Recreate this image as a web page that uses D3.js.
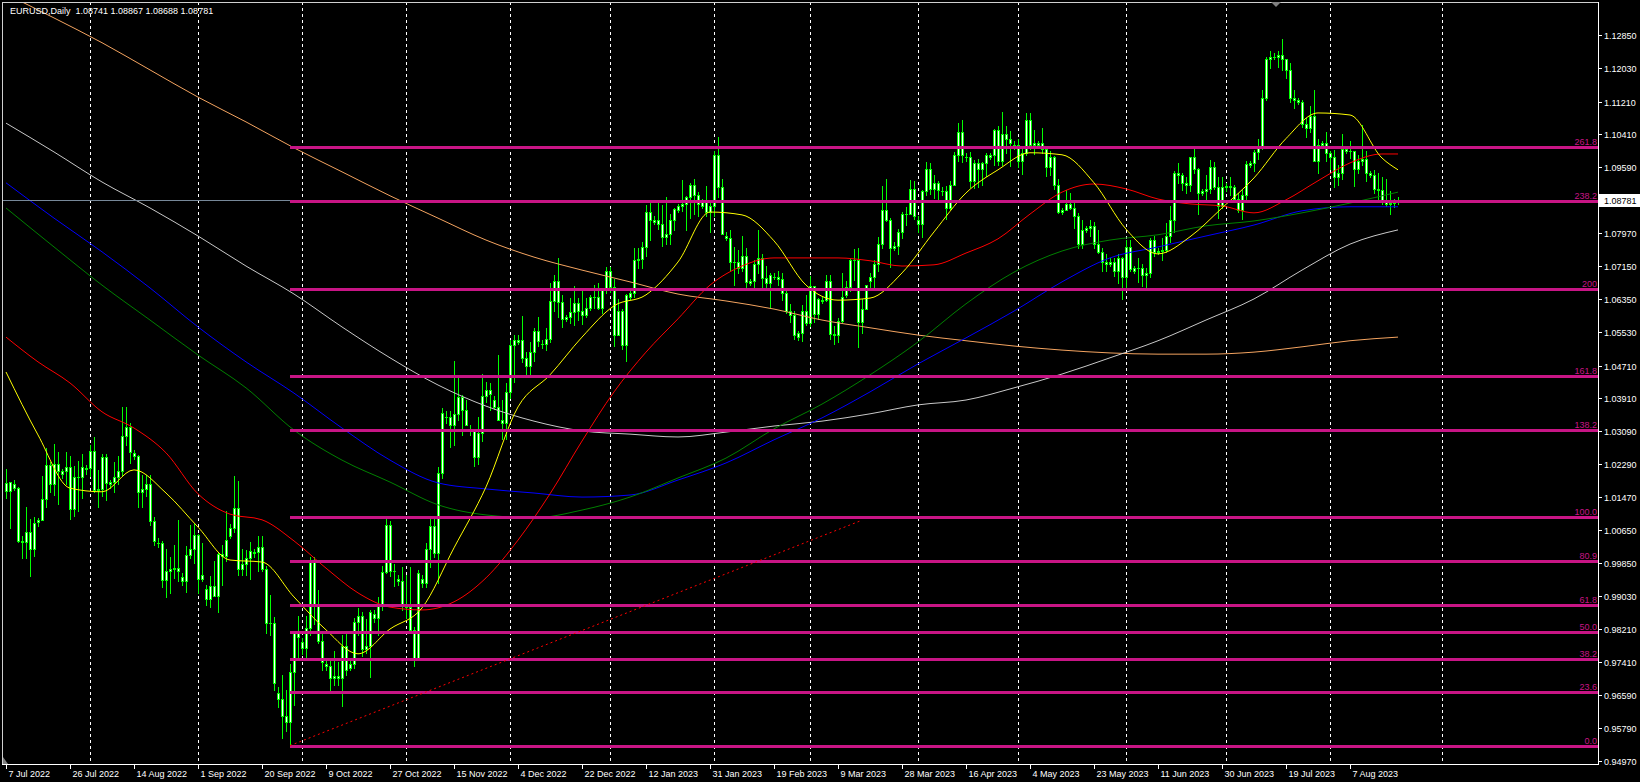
<!DOCTYPE html>
<html lang="en">
<head>
<meta charset="UTF-8">
<title>EURUSD Daily</title>
<script src="https://cdn.jsdelivr.net/npm/d3@7"></script>
<style type="text/css">
    body { margin: 0; background: #000; }
    svg { display: block; }
    text { font-family: "Liberation Sans", Arial, sans-serif; font-size: 9px; }
</style>
</head>
<body>
<svg width="1640" height="782"></svg>
<script type="text/javascript">
// daily bars, [open, high, low, close], one array per month (Sunday bars included)
var jul22 = [
    [1.0182,1.0215,1.0144,1.0161],[1.0161,1.0185,1.0072,1.0185],
    [1.0180,1.0190,1.0165,1.0170],[1.0170,1.0173,1.0036,1.0038],[1.0038,1.0050,0.9998,1.0036],[1.0036,1.0122,0.9998,1.0061],[1.0061,1.0092,0.9952,1.0019],[1.0019,1.0097,1.0001,1.0082],
    [1.0085,1.0095,1.0075,1.0090],[1.0090,1.0200,1.0090,1.0142],[1.0142,1.0269,1.0123,1.0226],[1.0226,1.0234,1.0160,1.0180],[1.0180,1.0278,1.0152,1.0229],[1.0229,1.0258,1.0130,1.0212],
    [1.0205,1.0215,1.0195,1.0210],[1.0210,1.0258,1.0180,1.0221],[1.0221,1.0248,1.0094,1.0117],[1.0117,1.0224,1.0100,1.0197],[1.0197,1.0235,1.0112,1.0196],[1.0196,1.0254,1.0145,1.0220],
    [1.0215,1.0225,1.0205,1.0218]
];
var aug22 = [
    [1.0218,1.0275,1.0200,1.0260],[1.0260,1.0294,1.0160,1.0164],[1.0164,1.0214,1.0123,1.0167],[1.0167,1.0254,1.0150,1.0246],[1.0246,1.0253,1.0141,1.0182],
    [1.0180,1.0190,1.0170,1.0185],[1.0185,1.0234,1.0160,1.0196],[1.0196,1.0248,1.0180,1.0211],[1.0211,1.0368,1.0202,1.0298],[1.0298,1.0368,1.0275,1.0320],[1.0320,1.0330,1.0232,1.0258],
    [1.0255,1.0262,1.0240,1.0248],[1.0248,1.0250,1.0123,1.0160],[1.0160,1.0202,1.0122,1.0168],[1.0168,1.0201,1.0150,1.0180],[1.0180,1.0202,1.0077,1.0087],[1.0087,1.0097,1.0030,1.0038],
    [1.0035,1.0045,1.0025,1.0035],[1.0035,1.0040,0.9926,0.9944],[0.9944,1.0019,0.9901,0.9966],[0.9966,0.9999,0.9910,0.9970],[0.9970,1.0030,0.9947,0.9972],[0.9972,1.0090,0.9940,0.9964],
    [0.9950,0.9960,0.9930,0.9940],[0.9940,1.0027,0.9914,1.0004],[1.0004,1.0079,0.9996,1.0018],[1.0018,1.0080,0.9985,1.0054]
];
var sep22 = [
    [1.0054,1.0056,0.9910,0.9946],[0.9946,1.0034,0.9940,0.9955],
    [0.9920,0.9930,0.9880,0.9895],[0.9895,0.9953,0.9876,0.9929],[0.9929,0.9990,0.9904,0.9903],[0.9903,1.0012,0.9864,1.0008],[1.0008,1.0030,0.9930,1.0001],[1.0001,1.0113,0.9990,1.0042],
    [1.0050,1.0080,1.0045,1.0070],[1.0070,1.0198,1.0060,1.0121],[1.0121,1.0187,0.9955,0.9969],[0.9969,1.0020,0.9955,0.9981],[0.9981,1.0017,0.9955,0.9998],[0.9998,1.0036,0.9945,1.0015],
    [1.0010,1.0020,1.0000,1.0012],[1.0012,1.0051,0.9966,1.0024],[1.0024,1.0050,0.9966,0.9971],[0.9971,0.9977,0.9812,0.9837],[0.9837,0.9907,0.9808,0.9837],[0.9837,0.9852,0.9672,0.9690],
    [0.9665,0.9680,0.9630,0.9650],[0.9650,0.9709,0.9554,0.9607],[0.9607,0.9672,0.9570,0.9593],[0.9593,0.9737,0.9535,0.9715],[0.9715,0.9815,0.9636,0.9815],[0.9815,0.9854,0.9749,0.9802]
];
var oct22 = [
    [0.9790,0.9800,0.9760,0.9775],[0.9775,0.9853,0.9751,0.9825],[0.9825,0.9999,0.9808,0.9986],[0.9986,0.9999,0.9835,0.9883],[0.9883,0.9918,0.9787,0.9793],[0.9793,0.9816,0.9720,0.9740],
    [0.9735,0.9745,0.9720,0.9730],[0.9730,0.9750,0.9670,0.9702],[0.9702,0.9769,0.9683,0.9707],[0.9707,0.9740,0.9684,0.9702],[0.9702,0.9807,0.9632,0.9780],[0.9780,0.9810,0.9710,0.9720],
    [0.9725,0.9745,0.9720,0.9735],[0.9735,0.9850,0.9725,0.9840],[0.9840,0.9875,0.9807,0.9855],[0.9855,0.9865,0.9756,0.9773],[0.9773,0.9847,0.9762,0.9779],[0.9779,0.9870,0.9705,0.9863],
    [0.9860,0.9870,0.9840,0.9850],[0.9850,0.9900,0.9808,0.9878],[0.9878,0.9977,0.9868,0.9963],[0.9963,1.0094,0.9960,1.0078],[1.0078,1.0088,0.9952,0.9965],[0.9965,0.9981,0.9929,0.9965],
    [0.9945,0.9955,0.9930,0.9940],[0.9940,0.9976,0.9870,0.9883]
];
var nov22 = [
    [0.9883,0.9954,0.9850,0.9877],[0.9877,0.9976,0.9814,0.9819],[0.9819,0.9826,0.9730,0.9751],[0.9751,0.9967,0.9746,0.9960],
    [0.9945,0.9955,0.9925,0.9935],[0.9935,1.0033,0.9925,1.0020],[1.0020,1.0095,0.9974,1.0075],[1.0075,1.0094,1.0000,1.0010],[1.0010,1.0222,0.9935,1.0206],[1.0206,1.0366,1.0195,1.0354],
    [1.0345,1.0360,1.0330,1.0345],[1.0345,1.0358,1.0271,1.0325],[1.0325,1.0481,1.0275,1.0352],[1.0352,1.0444,1.0336,1.0393],[1.0393,1.0399,1.0301,1.0362],[1.0362,1.0387,1.0325,1.0325],
    [1.0315,1.0325,1.0300,1.0310],[1.0310,1.0314,1.0223,1.0245],[1.0245,1.0343,1.0228,1.0305],[1.0305,1.0449,1.0285,1.0395],[1.0395,1.0431,1.0382,1.0410],[1.0410,1.0428,1.0362,1.0400],
    [1.0385,1.0395,1.0365,1.0370],[1.0370,1.0497,1.0345,1.0337],[1.0337,1.0386,1.0289,1.0330],[1.0330,1.0429,1.0290,1.0406]
];
var dec22 = [
    [1.0406,1.0535,1.0390,1.0522],[1.0522,1.0545,1.0430,1.0535],
    [1.0530,1.0545,1.0525,1.0535],[1.0535,1.0594,1.0480,1.0490],[1.0490,1.0505,1.0443,1.0470],[1.0470,1.0530,1.0443,1.0505],[1.0505,1.0564,1.0482,1.0556],[1.0556,1.0590,1.0520,1.0532],
    [1.0525,1.0535,1.0515,1.0525],[1.0525,1.0564,1.0510,1.0537],[1.0537,1.0674,1.0530,1.0630],[1.0630,1.0695,1.0605,1.0680],[1.0680,1.0736,1.0591,1.0628],[1.0628,1.0645,1.0567,1.0585],
    [1.0585,1.0595,1.0580,1.0590],[1.0590,1.0638,1.0575,1.0604],[1.0604,1.0667,1.0570,1.0625],[1.0625,1.0638,1.0584,1.0605],[1.0605,1.0658,1.0573,1.0595],[1.0595,1.0637,1.0591,1.0613],
    [1.0613,1.0645,1.0608,1.0640],[1.0640,1.0670,1.0612,1.0640],[1.0640,1.0673,1.0610,1.0612],[1.0612,1.0663,1.0600,1.0660],[1.0660,1.0713,1.0650,1.0705]
];
var jan23 = [
    [1.0705,1.0713,1.0653,1.0665],[1.0665,1.0683,1.0520,1.0547],[1.0547,1.0636,1.0545,1.0606],[1.0606,1.0610,1.0512,1.0521],[1.0521,1.0648,1.0483,1.0645],
    [1.0640,1.0655,1.0635,1.0650],[1.0650,1.0760,1.0640,1.0730],[1.0730,1.0760,1.0712,1.0734],[1.0734,1.0776,1.0712,1.0762],[1.0762,1.0867,1.0740,1.0850],[1.0850,1.0874,1.0780,1.0830],
    [1.0825,1.0840,1.0820,1.0830],[1.0830,1.0874,1.0806,1.0820],[1.0820,1.0867,1.0766,1.0787],[1.0787,1.0887,1.0770,1.0795],[1.0795,1.0844,1.0770,1.0830],[1.0830,1.0860,1.0805,1.0856],
    [1.0855,1.0870,1.0850,1.0865],[1.0865,1.0927,1.0851,1.0870],[1.0870,1.0888,1.0804,1.0885],[1.0885,1.0920,1.0835,1.0915],[1.0915,1.0930,1.0845,1.0890],[1.0890,1.0899,1.0838,1.0870],
    [1.0865,1.0880,1.0860,1.0875],[1.0875,1.0914,1.0838,1.0850],[1.0850,1.0872,1.0800,1.0863]
];
var feb23 = [
    [1.0863,1.1000,1.0840,1.0990],[1.0990,1.1033,1.0886,1.0910],[1.0910,1.0930,1.0795,1.0795],
    [1.0790,1.0800,1.0780,1.0785],[1.0785,1.0805,1.0707,1.0727],[1.0727,1.0762,1.0669,1.0726],[1.0726,1.0755,1.0700,1.0712],[1.0712,1.0790,1.0705,1.0740],[1.0740,1.0760,1.0660,1.0677],
    [1.0675,1.0685,1.0670,1.0680],[1.0680,1.0730,1.0665,1.0722],[1.0722,1.0804,1.0700,1.0737],[1.0737,1.0745,1.0660,1.0687],[1.0687,1.0716,1.0660,1.0675],[1.0675,1.0700,1.0613,1.0695],
    [1.0690,1.0700,1.0685,1.0690],[1.0690,1.0705,1.0670,1.0685],[1.0685,1.0700,1.0633,1.0650],[1.0650,1.0663,1.0600,1.0605],[1.0605,1.0622,1.0577,1.0595],[1.0595,1.0605,1.0536,1.0545],
    [1.0540,1.0555,1.0535,1.0550],[1.0550,1.0620,1.0532,1.0606],[1.0606,1.0645,1.0572,1.0575]
];
var mar23 = [
    [1.0575,1.0691,1.0568,1.0667],[1.0667,1.0668,1.0577,1.0598],[1.0598,1.0637,1.0585,1.0635],
    [1.0630,1.0640,1.0625,1.0632],[1.0632,1.0694,1.0631,1.0680],[1.0680,1.0695,1.0537,1.0548],[1.0548,1.0568,1.0524,1.0545],[1.0545,1.0589,1.0530,1.0580],[1.0580,1.0700,1.0578,1.0640],
    [1.0645,1.0680,1.0640,1.0665],[1.0665,1.0736,1.0655,1.0730],[1.0730,1.0759,1.0682,1.0730],[1.0730,1.0760,1.0516,1.0577],[1.0577,1.0636,1.0550,1.0610],[1.0610,1.0670,1.0610,1.0670],
    [1.0680,1.0700,1.0660,1.0690],[1.0690,1.0730,1.0660,1.0720],[1.0720,1.0787,1.0705,1.0770],[1.0770,1.0912,1.0760,1.0855],[1.0855,1.0930,1.0826,1.0830],[1.0830,1.0835,1.0714,1.0760],
    [1.0760,1.0775,1.0755,1.0765],[1.0765,1.0806,1.0745,1.0800],[1.0800,1.0850,1.0785,1.0845],[1.0845,1.0861,1.0818,1.0845],[1.0845,1.0927,1.0843,1.0905],[1.0905,1.0925,1.0831,1.0840]
];
var apr23 = [
    [1.0830,1.0840,1.0800,1.0820],[1.0820,1.0904,1.0788,1.0900],[1.0900,1.0973,1.0892,1.0955],[1.0955,1.0970,1.0893,1.0905],[1.0905,1.0941,1.0883,1.0920],[1.0920,1.0925,1.0877,1.0903],
    [1.0900,1.0910,1.0890,1.0900],[1.0900,1.0913,1.0831,1.0860],[1.0860,1.0925,1.0857,1.0915],[1.0915,1.0998,1.0915,1.0990],[1.0990,1.1068,1.0975,1.1045],[1.1045,1.1076,1.0972,1.0990],
    [1.0985,1.0995,1.0975,1.0985],[1.0985,1.0998,1.0910,1.0925],[1.0925,1.0977,1.0908,1.0970],[1.0970,1.0980,1.0910,1.0955],[1.0955,1.0972,1.0915,1.0970],[1.0970,1.0995,1.0937,1.0990],
    [1.0985,1.0995,1.0980,1.0990],[1.0990,1.1054,1.0965,1.1050],[1.1050,1.1060,1.0966,1.0975],[1.0975,1.1095,1.0965,1.1040],[1.1040,1.1060,1.0994,1.1030],[1.1030,1.1048,1.0962,1.1020],
    [1.1015,1.1025,1.1005,1.1015]
];
var may23 = [
    [1.1015,1.1030,1.0960,1.0975],[1.0975,1.1006,1.0942,1.0995],[1.0995,1.1092,1.0990,1.1075],[1.1075,1.1092,1.1005,1.1015],[1.1015,1.1050,1.0993,1.1020],
    [1.1015,1.1025,1.1010,1.1018],[1.1018,1.1055,1.0995,1.1005],[1.1005,1.1010,1.0938,1.0960],[1.0960,1.1000,1.0940,1.0985],[1.0985,1.0987,1.0905,1.0915],[1.0915,1.0930,1.0847,1.0850],
    [1.0850,1.0860,1.0845,1.0855],[1.0855,1.0904,1.0855,1.0870],[1.0870,1.0895,1.0856,1.0860],[1.0860,1.0875,1.0810,1.0840],[1.0840,1.0846,1.0760,1.0770],[1.0770,1.0830,1.0760,1.0805],
    [1.0805,1.0815,1.0800,1.0810],[1.0810,1.0830,1.0790,1.0815],[1.0815,1.0825,1.0760,1.0770],[1.0770,1.0805,1.0747,1.0750],[1.0750,1.0760,1.0705,1.0725],[1.0725,1.0745,1.0705,1.0720],
    [1.0720,1.0735,1.0715,1.0725],[1.0725,1.0735,1.0692,1.0705],[1.0705,1.0746,1.0675,1.0735],[1.0735,1.0738,1.0635,1.0690]
];
var jun23 = [
    [1.0690,1.0779,1.0665,1.0762],[1.0762,1.0780,1.0703,1.0708],
    [1.0705,1.0715,1.0700,1.0710],[1.0710,1.0736,1.0677,1.0712],[1.0712,1.0720,1.0666,1.0695],[1.0695,1.0710,1.0665,1.0700],[1.0700,1.0785,1.0688,1.0780],[1.0780,1.0790,1.0740,1.0750],
    [1.0750,1.0760,1.0745,1.0752],[1.0752,1.0785,1.0730,1.0755],[1.0755,1.0823,1.0750,1.0790],[1.0790,1.0865,1.0776,1.0830],[1.0830,1.0950,1.0800,1.0945],[1.0945,1.0970,1.0920,1.0940],
    [1.0940,1.0945,1.0903,1.0920],[1.0920,1.0935,1.0896,1.0915],[1.0915,1.0985,1.0900,1.0985],[1.0985,1.1012,1.0945,1.0955],[1.0955,1.0957,1.0845,1.0895],
    [1.0895,1.0905,1.0890,1.0900],[1.0900,1.0940,1.0880,1.0905],[1.0905,1.0976,1.0897,1.0960],[1.0960,1.0971,1.0905,1.0910],[1.0910,1.0935,1.0835,1.0865],[1.0865,1.0935,1.0860,1.0910]
];
var jul23 = [
    [1.0910,1.0920,1.0900,1.0912],[1.0912,1.0935,1.0892,1.0910],[1.0910,1.0915,1.0875,1.0880],[1.0880,1.0895,1.0850,1.0855],[1.0855,1.0903,1.0833,1.0890],[1.0890,1.0975,1.0880,1.0968],
    [1.0965,1.0975,1.0960,1.0970],[1.0970,1.1003,1.0950,1.0997],[1.0997,1.1028,1.0980,1.1010],[1.1010,1.1150,1.1005,1.1130],[1.1130,1.1230,1.1125,1.1225],[1.1225,1.1245,1.1203,1.1230],
    [1.1230,1.1240,1.1225,1.1232],[1.1232,1.1245,1.1205,1.1235],[1.1235,1.1276,1.1200,1.1225],[1.1225,1.1225,1.1180,1.1200],[1.1200,1.1215,1.1120,1.1130],[1.1130,1.1150,1.1105,1.1125],
    [1.1125,1.1130,1.1115,1.1120],[1.1120,1.1125,1.1058,1.1065],[1.1065,1.1080,1.1035,1.1055],[1.1055,1.1110,1.1045,1.1085],[1.1085,1.1150,1.0975,1.0975],[1.0975,1.1030,1.0945,1.1015],
    [1.1015,1.1025,1.1010,1.1020],[1.1020,1.1045,1.0975,1.0995]
];
var aug23 = [
    [1.0995,1.1000,1.0955,1.0985],[1.0985,1.1003,1.0910,1.0935],[1.0935,1.0965,1.0915,1.0945],[1.0945,1.1042,1.0930,1.1005],
    [1.1005,1.1010,1.0995,1.1000],[1.1000,1.1025,1.0982,1.1000],[1.1000,1.1000,1.0912,1.0955],[1.0955,1.0990,1.0945,1.0975],[1.0975,1.1064,1.0965,1.0980],[1.0980,1.1000,1.0925,1.0945],
    [1.0945,1.0950,1.0935,1.0940],[1.0940,1.0952,1.0895,1.0905],[1.0905,1.0944,1.0876,1.0903],[1.0903,1.0935,1.0870,1.0875],[1.0875,1.0930,1.0865,1.0870],[1.0870,1.0900,1.0845,1.0872],
    [1.0872,1.0880,1.0862,1.0874],[1.08741,1.08867,1.08688,1.08781]
];

var yellowMA = [1.0455,1.0300,1.0169,1.0160,1.0214,1.0157,1.0073,0.9992,0.9987,0.9901,0.9820,0.9761,0.9822,0.9874,1.0022,1.0172,1.0369,1.0448,1.0541,1.0618,1.0645,1.0726,1.0849,1.0842,1.0778,1.0669,1.0632,1.0637,1.0699,1.0800,1.0896,1.0953,1.0995,1.0990,1.0921,1.0807,1.0746,1.0788,1.0859,1.0933,1.1030,1.1093,1.1088,1.0982,1.0953];
var redMA = [1.0541,1.0480,1.0428,1.0357,1.0317,1.0256,1.0155,1.0105,1.0091,1.0039,0.9972,0.9911,0.9876,0.9869,0.9889,0.9948,1.0041,1.0155,1.0285,1.0406,1.0504,1.0586,1.0669,1.0716,1.0736,1.0736,1.0736,1.0729,1.0716,1.0719,1.0748,1.0783,1.0844,1.0898,1.0918,1.0906,1.0881,1.0869,1.0864,1.0847,1.0879,1.0926,1.0970,1.0992,1.0992];
var greenMA = [1.0859,1.0763,1.0669,1.0583,1.0497,1.0416,1.0312,1.0238,1.0184,1.0128,1.0103,1.0096,1.0115,1.0147,1.0194,1.0243,1.0315,1.0376,1.0448,1.0529,1.0623,1.0701,1.0753,1.0780,1.0793,1.0815,1.0827,1.0847,1.0871,1.0898];
var blueMA = [1.0921,1.0834,1.0751,1.0662,1.0566,1.0480,1.0403,1.0317,1.0238,1.0182,1.0167,1.0157,1.0147,1.0152,1.0189,1.0231,1.0288,1.0342,1.0406,1.0475,1.0539,1.0605,1.0677,1.0736,1.0763,1.0790,1.0817,1.0852,1.0862,1.0862];
var grayMA = [1.1068,1.0997,1.0923,1.0859,1.0790,1.0716,1.0647,1.0566,1.0490,1.0423,1.0371,1.0334,1.0310,1.0302,1.0295,1.0307,1.0322,1.0334,1.0352,1.0374,1.0386,1.0416,1.0450,1.0490,1.0532,1.0583,1.0635,1.0706,1.0770,1.0805];
var orangeMA = [1.1386,1.1327,1.1266,1.1199,1.1132,1.1071,1.1007,1.0948,1.0889,1.0834,1.0780,1.0738,1.0706,1.0677,1.0647,1.0630,1.0610,1.0583,1.0564,1.0546,1.0532,1.0519,1.0509,1.0502,1.0499,1.0499,1.0504,1.0517,1.0532,1.0541];

// fibonacci object and trend line
var fibLow = 0.9534, fibHigh = 1.0097;
var fibLevels = [0, 23.6, 38.2, 50, 61.8, 80.9, 100, 138.2, 161.8, 200, 238.2, 261.8];
var fibLabels = ["0.0", "23.6", "38.2", "50.0", "61.8", "80.9", "100.0", "138.2", "161.8", "200", "238.2", "261.8"];
var trendFrom = [71, 0.9535], trendTo = [214, 1.0090];

var priceTicks = [1.12850, 1.12030, 1.11210, 1.10410, 1.09590, 1.07970, 1.07150, 1.06350, 1.05530, 1.04710, 1.03910, 1.03090, 1.02290, 1.01470, 1.00650, 0.99850, 0.99030, 0.98210, 0.97410, 0.96590, 0.95790, 0.94970];
var bidPrice = 1.08781;
var header = "EURUSD,Daily  1.08741 1.08867 1.08688 1.08781";

(function() {
    var svg = d3.select("svg"),
        left = 2, top = 2, right = 1598, bottom = 764;

    // bar calendar: no Saturdays, a few broker holidays
    var skip = ["2022-12-25", "2023-01-01", "2023-06-18"];
    var dates = [];
    for (var t = Date.UTC(2022, 6, 7); t <= Date.UTC(2023, 7, 21); t += 864e5) {
        var d = new Date(t);
        if (d.getUTCDay() === 6 || skip.indexOf(d.toISOString().slice(0, 10)) >= 0) continue;
        dates.push(d);
    }
    var ohlc = [].concat(jul22, aug22, sep22, oct22, nov22, dec22, jan23, feb23, mar23, apr23, may23, jun23, jul23, aug23);
    var bars = ohlc.map(function(v, i) {
        return { i: i, date: dates[i], o: v[0], h: v[1], l: v[2], c: v[3] };
    });

    var x = d3.scaleLinear().domain([0, 348]).range([6, 1398]);
    var y = d3.scaleLinear().domain([0.9497, 1.1285]).range([761, 35]);
    var px = function(i) { return Math.round(x(i)); };
    var py = function(p) { return Math.round(y(p)); };

    svg.append("rect").attr("width", 1640).attr("height", 782).attr("fill", "#000");
    svg.append("clipPath").attr("id", "plot")
        .append("rect").attr("x", left).attr("y", top).attr("width", right - left).attr("height", bottom - top);

    var plot = svg.append("g").attr("clip-path", "url(#plot)");

    // month grid lines (plus the next month in the shift area)
    var monthStarts = [];
    bars.forEach(function(b, i) {
        if (i > 0 && b.date.getUTCMonth() !== bars[i - 1].date.getUTCMonth()) monthStarts.push(i);
    });
    monthStarts.push(359);
    plot.selectAll(".grid").data(monthStarts).enter().append("line")
        .attr("x1", function(i) { return px(i) + 0.5; })
        .attr("x2", function(i) { return px(i) + 0.5; })
        .attr("y1", top).attr("y2", bottom)
        .attr("stroke", "#fff").attr("stroke-dasharray", "3,3");

    // candles
    var cg = plot.append("g").attr("shape-rendering", "crispEdges");
    bars.forEach(function(b) {
        var cx = px(b.i),
            hi = py(b.h), lo = py(b.l),
            bt = py(Math.max(b.o, b.c)), bb = py(Math.min(b.o, b.c));
        cg.append("rect").attr("x", cx).attr("y", hi).attr("width", 1).attr("height", Math.max(1, lo - hi + 1)).attr("fill", "#00ff00");
        cg.append("rect").attr("x", cx - 1).attr("y", bt).attr("width", 3).attr("height", Math.max(1, bb - bt + 1)).attr("fill", "#00ff00");
        if (bb - bt >= 2) {
            cg.append("rect").attr("x", cx).attr("y", bt + 1).attr("width", 1).attr("height", bb - bt - 1).attr("fill", "#fff");
        }
    });

    // moving averages
    var step8 = d3.range(0, 348, 8).concat([348]),
        step12 = d3.range(0, 349, 12);
    var line = d3.line()
        .x(function(d) { return x(d[0]); })
        .y(function(d) { return y(d[1]); })
        .curve(d3.curveMonotoneX);
    var mas = [
        { v: orangeMA, idx: step12, color: "#f4a460" },
        { v: grayMA, idx: step12, color: "#c8c8c8" },
        { v: blueMA, idx: step12, color: "#0000ff" },
        { v: greenMA, idx: step12, color: "#008000" },
        { v: redMA, idx: step8, color: "#ff0000" },
        { v: yellowMA, idx: step8, color: "#ffff00" }
    ];
    mas.forEach(function(m) {
        plot.append("path")
            .datum(m.v.map(function(p, k) { return [m.idx[k], p]; }))
            .attr("d", line)
            .attr("fill", "none")
            .attr("stroke", m.color)
            .attr("stroke-width", 1);
    });

    // bid line
    plot.append("line")
        .attr("x1", left).attr("x2", right)
        .attr("y1", py(bidPrice) + 0.5).attr("y2", py(bidPrice) + 0.5)
        .attr("stroke", "#778899").attr("shape-rendering", "crispEdges");

    // fibonacci levels
    var fx = px(trendFrom[0]);
    fibLevels.forEach(function(lv, k) {
        var yy = y(fibLow + (fibHigh - fibLow) * lv / 100);
        plot.append("rect")
            .attr("x", fx).attr("y", Math.round(yy) - 1)
            .attr("width", right - fx).attr("height", 3)
            .attr("fill", "#c71585").attr("shape-rendering", "crispEdges");
        var txt = svg.append("text")
            .attr("x", right - 1).attr("y", Math.round(yy) - 2)
            .attr("text-anchor", "end")
            .attr("fill", "#c71585")
            .text(fibLabels[k]);
        var bb = txt.node().getBBox();
        svg.insert("rect", function() { return txt.node(); })
            .attr("x", bb.x - 1).attr("y", Math.round(yy) - 11)
            .attr("width", right - bb.x + 1).attr("height", 10)
            .attr("fill", "#000");
    });

    // dotted trend line
    plot.append("path")
        .datum([trendFrom, trendTo])
        .attr("d", d3.line().x(function(d) { return x(d[0]); }).y(function(d) { return y(d[1]); }))
        .attr("stroke", "#ff0000").attr("stroke-dasharray", "2,3").attr("fill", "none");

    // frame and axes
    var fr = svg.append("g").attr("shape-rendering", "crispEdges");
    fr.append("line").attr("x1", left + 0.5).attr("x2", left + 0.5).attr("y1", top).attr("y2", bottom).attr("stroke", "#d0d0d0");
    fr.append("line").attr("x1", left).attr("x2", right).attr("y1", top + 0.5).attr("y2", top + 0.5).attr("stroke", "#d0d0d0");
    fr.append("line").attr("x1", right + 0.5).attr("x2", right + 0.5).attr("y1", top).attr("y2", bottom + 1).attr("stroke", "#fff");
    fr.append("line").attr("x1", left).attr("x2", right + 1).attr("y1", bottom + 0.5).attr("y2", bottom + 0.5).attr("stroke", "#fff");

    // price scale
    priceTicks.forEach(function(p) {
        var yy = py(p) + 0.5;
        fr.append("line").attr("x1", right).attr("x2", right + 4).attr("y1", yy).attr("y2", yy).attr("stroke", "#fff");
        svg.append("text").attr("x", right + 6).attr("y", yy + 3.5).attr("fill", "#fff").text(p.toFixed(5));
    });
    var by = py(bidPrice) + 0.5;
    svg.append("rect").attr("x", right + 1).attr("y", by - 6.5).attr("width", 1640 - right - 1).attr("height", 13).attr("fill", "#fff");
    svg.append("text").attr("x", right + 6).attr("y", by + 3.5).attr("fill", "#000").text(bidPrice.toFixed(5));

    // time scale
    var fmt = d3.utcFormat("%-d %b %Y");
    var labelBars = d3.range(0, bars.length, 16);
    labelBars.forEach(function(i) {
        var xx = px(i) + 0.5;
        fr.append("line").attr("x1", xx).attr("x2", xx).attr("y1", bottom).attr("y2", bottom + 5).attr("stroke", "#fff");
        svg.append("text").attr("x", xx + 2).attr("y", bottom + 13).attr("fill", "#fff").text(fmt(bars[i].date));
    });

    // header and small markers
    svg.append("text").attr("x", 10).attr("y", 14).attr("fill", "#fff").attr("xml:space", "preserve").style("white-space", "pre").text(header);
    svg.append("path").attr("d", "M1271,2L1281,2L1276,7Z").attr("fill", "#808080");
    svg.append("path").attr("d", "M3,764L3,757L8,764Z").attr("fill", "#808080");
})();
</script>
</body>
</html>
